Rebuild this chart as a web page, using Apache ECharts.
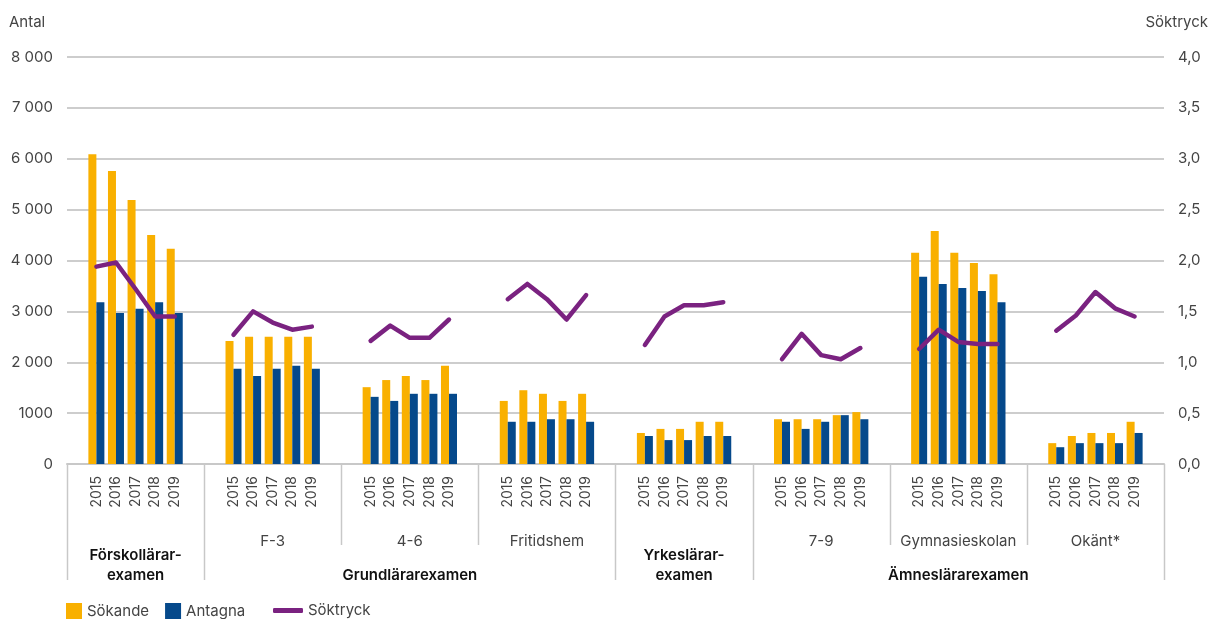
<!DOCTYPE html>
<html>
<head>
<meta charset="utf-8">
<script src="https://cdn.jsdelivr.net/npm/echarts@6/dist/echarts.min.js"></script>
<style>
html,body{margin:0;padding:0;background:#fff;}
#chart{width:1210px;height:619px;}
</style>
</head>
<body>
<div id="chart"></div>
<script>
// ---- data ----
const years = ['2015', '2016', '2017', '2018', '2019'];
const groupLabels = ['', 'F-3', '4-6', 'Fritidshem', '', '7-9', 'Gymnasieskolan', 'Okänt*'];
const examLabels = ['Förskollärar-\nexamen', 'Grundlärarexamen', 'Yrkeslärar-\nexamen', 'Ämneslärarexamen'];
const examSpans = [[0, 1], [1, 4], [4, 5], [5, 8]];
const leftTickLabels = ['0', '1000', '2 000', '3 000', '4 000', '5 000', '6 000', '7 000', '8 000'];
const rightTickLabels = ['0,0', '0,5', '1,0', '1,5', '2,0', '2,5', '3,0', '3,5', '4,0'];

const sokande = [
  6090, 5760, 5190, 4500, 4230,
  2420, 2500, 2500, 2500, 2500,
  1510, 1650, 1730, 1650, 1930,
  1240, 1450, 1380, 1240, 1380,
  610, 690, 690, 830, 830,
  880, 880, 880, 960, 1020,
  4150, 4580, 4150, 3950, 3730,
  410, 550, 610, 610, 830
];
const antagna = [
  3180, 2970, 3050, 3180, 2970,
  1870, 1730, 1870, 1930, 1870,
  1320, 1240, 1380, 1380, 1380,
  830, 830, 880, 880, 830,
  550, 470, 470, 550, 550,
  830, 690, 830, 960, 880,
  3680, 3540, 3460, 3400, 3180,
  330, 410, 410, 410, 610
];
const soktryck = [
  1.94, 1.98, 1.72, 1.45, 1.45,
  1.27, 1.50, 1.39, 1.32, 1.35,
  1.21, 1.36, 1.24, 1.24, 1.42,
  1.62, 1.77, 1.62, 1.42, 1.66,
  1.17, 1.45, 1.56, 1.56, 1.59,
  1.03, 1.28, 1.07, 1.03, 1.14,
  1.13, 1.32, 1.20, 1.18, 1.18,
  1.31, 1.46, 1.69, 1.53, 1.45
];

// ---- build slotted data (7 slots per group, years in slots 1..5) ----
const SLOTS = 7;
const nGroups = groupLabels.length;
const cats = [], sokData = [], antData = [], tryData = [];
for (let g = 0; g < nGroups; g++) {
  for (let s = 0; s < SLOTS; s++) {
    cats.push(g + '_' + s);
    if (s >= 1 && s <= years.length) {
      const i = g * years.length + (s - 1);
      sokData.push(sokande[i]); antData.push(antagna[i]); tryData.push(soktryck[i]);
    } else {
      sokData.push('-'); antData.push('-'); tryData.push(null);
    }
  }
}

const FONT = 'Inter';
const TXT = '#444';
const ORANGE = '#F9B000', BLUE = '#05498B', PURPLE = '#7A2280';
const chart = echarts.init(document.getElementById('chart'), null, {renderer: 'canvas'});
const option = {
  animation: false,
  textStyle: {fontFamily: FONT},
  grid: {left: 67, right: 46, top: 57, bottom: 155, containLabel: false},
  legend: [
    {left: 66, top: 603, padding: 0, itemWidth: 16, itemHeight: 16, itemGap: 16, icon: 'rect',
     data: ['Sökande', 'Antagna'], textStyle: {fontSize: 15, color: TXT, fontFamily: FONT}},
    {left: 273, top: 603, padding: 0, itemWidth: 30, itemHeight: 5, icon: 'roundRect',
     data: ['Söktryck'], textStyle: {fontSize: 15, color: TXT, fontFamily: FONT}}
  ],
  xAxis: [{
    type: 'category', data: cats,
    axisLine: {lineStyle: {color: '#c8c8c8', width: 2}},
    axisTick: {show: false},
    axisLabel: {interval: 0, rotate: 90, margin: 12, fontSize: 14, color: TXT, fontFamily: FONT,
      formatter: (v, idx) => { const s = idx % SLOTS; return (s >= 1 && s <= years.length) ? years[s - 1] : ''; }}
  }],
  yAxis: [{
    type: 'value', min: 0, max: 8000, interval: 1000,
    axisLine: {show: false}, axisTick: {show: false},
    splitLine: {lineStyle: {color: '#bdbdbd', width: 1.5}},
    axisLabel: {margin: 14, fontSize: 15, color: TXT, fontFamily: FONT,
      formatter: v => leftTickLabels[Math.round(v / 1000)]}
  }, {
    type: 'value', min: 0, max: 4, interval: 0.5, position: 'right',
    axisLine: {show: false}, axisTick: {show: false}, splitLine: {show: false},
    axisLabel: {margin: 14, fontSize: 15, color: TXT, fontFamily: FONT,
      formatter: v => rightTickLabels[Math.round(v / 0.5)]}
  }],
  series: [
    {name: 'Sökande', type: 'bar', data: sokData, barWidth: 8, barGap: '0%', itemStyle: {color: ORANGE}},
    {name: 'Antagna', type: 'bar', data: antData, barWidth: 8, barGap: '0%', itemStyle: {color: BLUE}},
    {name: 'Söktryck', type: 'line', yAxisIndex: 1, data: tryData, connectNulls: false,
     symbol: 'none', z: 5, itemStyle: {color: PURPLE},
     lineStyle: {color: PURPLE, width: 4.5, cap: 'round', join: 'round'}}
  ]
};
chart.setOption(option);

// ---- group separators and labels, positioned from the axis scale ----
const c0 = chart.convertToPixel({xAxisIndex: 0}, 0);
const c1 = chart.convertToPixel({xAxisIndex: 0}, 1);
const step = c1 - c0;
const y0 = chart.convertToPixel({yAxisIndex: 0}, 0);
const bx = g => c0 - step / 2 + g * SLOTS * step;
const longBounds = new Set();
examSpans.forEach(sp => { longBounds.add(sp[0]); longBounds.add(sp[1]); });
const gfx = [];
for (let g = 0; g <= nGroups; g++) {
  const x = Math.round(bx(g)) + 0.5;
  gfx.push({type: 'line', silent: true, shape: {x1: x, y1: y0, x2: x, y2: y0 + (longBounds.has(g) ? 116 : 81)},
    style: {stroke: '#c8c8c8', lineWidth: 1.5}});
}
groupLabels.forEach((t, g) => {
  if (!t) return;
  gfx.push({type: 'text', silent: true, x: (bx(g) + bx(g + 1)) / 2, y: y0 + 77,
    style: {text: t, fill: TXT, fontSize: 15, fontFamily: FONT, align: 'center', verticalAlign: 'middle'}});
});
examLabels.forEach((t, k) => {
  const sp = examSpans[k];
  const two = t.indexOf('\n') >= 0;
  gfx.push({type: 'text', silent: true, x: (bx(sp[0]) + bx(sp[1])) / 2, y: y0 + (two ? 101 : 111),
    style: {text: t, fill: '#111', fontSize: 15, fontWeight: 600, fontFamily: FONT, lineHeight: 20,
      align: 'center', verticalAlign: 'middle'}});
});
gfx.push({type: 'text', silent: true, x: 9, y: 22,
  style: {text: 'Antal', fill: TXT, fontSize: 15, fontFamily: FONT, align: 'left', verticalAlign: 'middle'}});
gfx.push({type: 'text', silent: true, x: 1208, y: 22,
  style: {text: 'Söktryck', fill: TXT, fontSize: 15, fontFamily: FONT, align: 'right', verticalAlign: 'middle'}});
chart.setOption({graphic: gfx});
</script>
</body>
</html>
